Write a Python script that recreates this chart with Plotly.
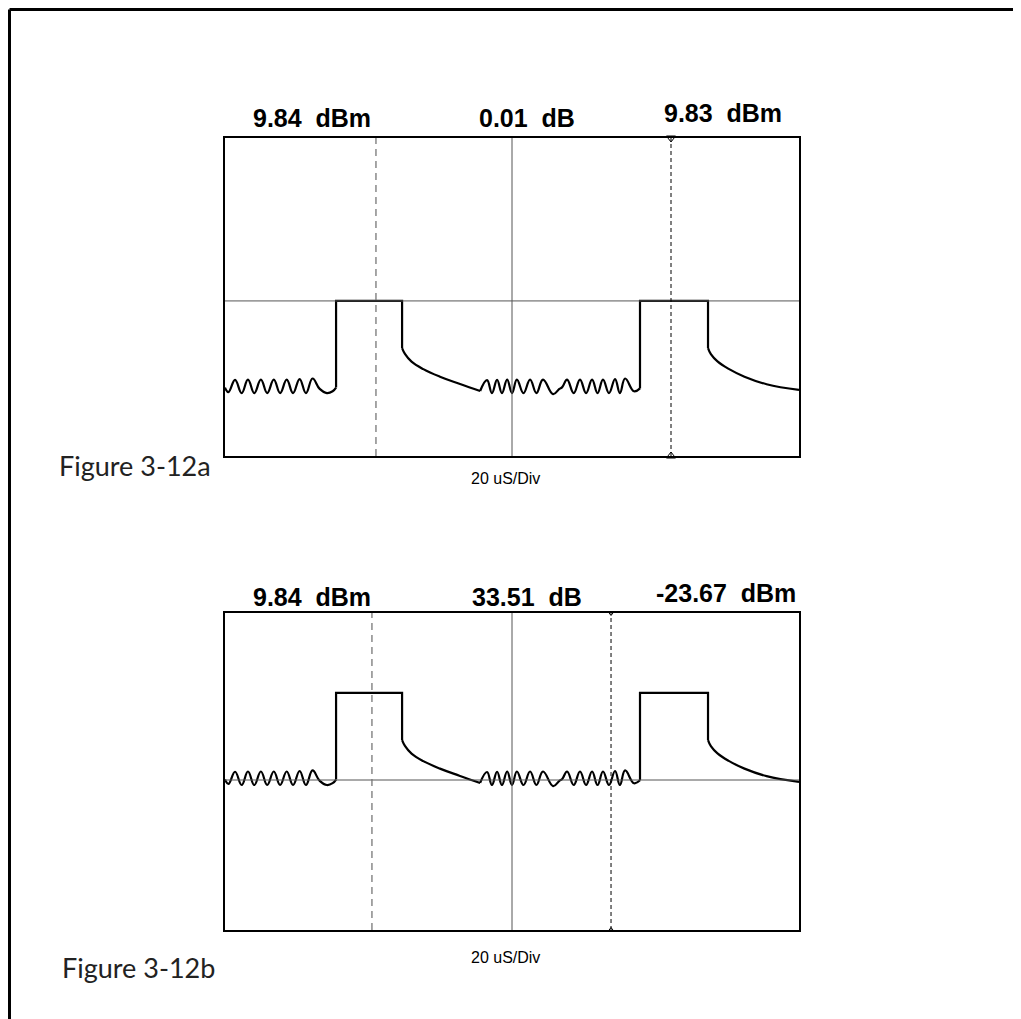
import plotly.graph_objects as go

W, H = 1021, 1019
OFF = 8  # default body margin of the page

# ---------------- data (time in uS, level in dBm) ----------------
noise_a_t = [0, 1.2, 3.5, 5.8, 8.0, 10.2, 12.5, 14.7, 17.0, 19.2, 21.5, 23.7, 26.0, 28.2, 30.5, 33.0, 35.5, 37.5, 38.7]
noise_a_db = [-23.5, -25.2, -20.5, -25.6, -20.4, -25.6, -20.4, -25.6, -20.4, -25.6, -20.4, -25.6, -20.2, -25.6, -20.0, -24.0, -25.6, -24.9, -23.5]

pulse_a_t = [38.7, 38.7, 61.7, 61.7]
pulse_a_db = [-23.5, 9.84, 9.84, -8.3]

decay_a_t = [61.7, 62.7, 65.0, 69.1, 74.9, 81.9, 88.9]
decay_a_db = [-8.3, -10.5, -13.5, -16.4, -19.3, -22.1, -24.8]

noise_b_t = [88.9, 91.3, 93.0, 94.8, 96.5, 98.3, 100.0, 101.7, 104.0, 106.3, 108.5, 110.8, 114.3, 116.5, 117.5,
             119.2, 121.5, 123.7, 125.8, 127.9, 129.8, 131.7, 133.8, 135.9, 137.6, 139.4, 142.5, 144.6]
noise_b_db = [-24.8, -20.6, -25.6, -20.5, -25.6, -20.4, -25.6, -20.4, -25.6, -20.4, -25.6, -20.4, -26.0, -24.0, -23.3,
              -20.4, -25.6, -20.4, -25.6, -20.4, -25.6, -20.4, -25.6, -20.2, -25.6, -20.0, -24.9, -23.8]

pulse_b_t = [144.6, 144.6, 168.3, 168.3]
pulse_b_db = [-23.8, 9.83, 9.83, -8.3]

decay_b_t = [168.3, 169.3, 171.6, 175.5, 181.0, 188.7, 200.0]
decay_b_db = [-8.3, -10.6, -13.4, -16.3, -19.3, -22.2, -24.4]

segments = [
    (noise_a_t, noise_a_db, "spline"),
    (pulse_a_t, pulse_a_db, "linear"),
    (decay_a_t, decay_a_db, "spline"),
    (noise_b_t, noise_b_db, "spline"),
    (pulse_b_t, pulse_b_db, "linear"),
    (decay_b_t, decay_b_db, "spline"),
]

# chart a / chart b settings
ref_level = {"a": 9.84, "b": -23.67}
marker1_us = {"a": 52.6, "b": 51.2}
marker2_us = {"a": 155.4, "b": 134.5}
center_us = 100
x_range = [0, 200]
y_range = {"a": [-49.8, 72.5], "b": [-81.4, 40.6]}

readouts = {
    "a": ["9.84\u00a0\u00a0dBm", "0.01\u00a0\u00a0dB", "9.83\u00a0\u00a0dBm"],
    "b": ["9.84\u00a0\u00a0dBm", "33.51\u00a0\u00a0dB", "-23.67\u00a0\u00a0dBm"],
}
fig_titles = {"a": "Figure 3-12a", "b": "Figure 3-12b"}
timebase = "20 uS/Div"

# ---------------- layout helpers ----------------
def px(x):
    return (x - OFF) / W

def py(y):
    return 1 - (y - OFF) / H

boxes = {"a": (225, 799, 138, 456), "b": (225, 799, 613, 930)}
axes = {"a": ("x", "y"), "b": ("x2", "y2")}
label_pos = {
    "a": [(312, 118), (527, 118), (723, 113)],
    "b": [(312, 597), (527, 597), (726, 593)],
}
timebase_y = {"a": 478, "b": 957}
title_pos = {"a": (57, 465), "b": (60, 967)}

fig = go.Figure()
shapes = []
annotations = []

for key in ["a", "b"]:
    xa, ya = axes[key]
    for t, d, shp in segments:
        fig.add_trace(go.Scatter(x=t, y=d, xaxis=xa, yaxis=ya, mode="lines",
                                 line=dict(color="black", width=2.2, shape=shp, smoothing=1.2),
                                 showlegend=False, hoverinfo="skip"))
    # center cross
    shapes.append(dict(type="line", xref=xa, yref=ya, x0=center_us, x1=center_us,
                       y0=y_range[key][0], y1=y_range[key][1], line=dict(color="#555", width=1)))
    shapes.append(dict(type="line", xref=xa, yref=ya, x0=x_range[0], x1=x_range[1],
                       y0=ref_level[key], y1=ref_level[key], line=dict(color="#555", width=1)))
    # markers
    shapes.append(dict(type="line", xref=xa, yref=ya, x0=marker1_us[key], x1=marker1_us[key],
                       y0=y_range[key][0], y1=y_range[key][1],
                       line=dict(color="#777", width=1.3, dash="7px,5px")))
    shapes.append(dict(type="line", xref=xa, yref=ya, x0=marker2_us[key], x1=marker2_us[key],
                       y0=y_range[key][0], y1=y_range[key][1],
                       line=dict(color="black", width=1, dash="4px,3px")))
    msize = 8 if key == "a" else 5
    fig.add_trace(go.Scatter(x=[marker2_us[key], marker2_us[key]],
                             y=[y_range[key][1], y_range[key][0]],
                             xaxis=xa, yaxis=ya, mode="markers", cliponaxis=False,
                             marker=dict(symbol=["triangle-down-open", "triangle-up-open"], size=msize,
                                         color="black", line=dict(width=1)),
                             showlegend=False, hoverinfo="skip"))

    for txt, (cx, cy) in zip(readouts[key], label_pos[key]):
        annotations.append(dict(text=txt, xref="paper", yref="paper", x=px(cx), y=py(cy),
                                showarrow=False, xanchor="center", yanchor="middle",
                                font=dict(family="Liberation Sans, Arial", size=25, color="black", weight="bold")))
    annotations.append(dict(text=timebase, xref="paper", yref="paper", x=px(505), y=py(timebase_y[key]),
                            showarrow=False, xanchor="center", yanchor="middle",
                            font=dict(family="Liberation Sans Narrow, Liberation Sans, Arial", size=16, color="black")))
    fx, fy = title_pos[key]
    annotations.append(dict(text=fig_titles[key], xref="paper", yref="paper", x=px(fx), y=py(fy),
                            showarrow=False, xanchor="left", yanchor="middle",
                            font=dict(family="Lato, Open Sans", size=27, color="#222")))

# page border (top and left)
shapes.append(dict(type="line", xref="paper", yref="paper", x0=1.5 / W, x1=1.0, y0=1 - 1.5 / H, y1=1 - 1.5 / H,
                   line=dict(color="black", width=3)))
shapes.append(dict(type="line", xref="paper", yref="paper", x0=1.5 / W, x1=1.5 / W, y0=1 - 1.5 / H, y1=0,
                   line=dict(color="black", width=3)))

axis_common = dict(showticklabels=False, showgrid=False, zeroline=False, showline=True, mirror=True,
                   linecolor="black", linewidth=1.5, ticks="", fixedrange=True)

layout = dict(
    width=W, height=H, margin=dict(l=0, r=0, t=0, b=0),
    paper_bgcolor="white", plot_bgcolor="white", showlegend=False,
    shapes=shapes, annotations=annotations,
)
for key in ["a", "b"]:
    x0, x1, y0, y1 = boxes[key]
    xa, ya = axes[key]
    xname = "xaxis" if xa == "x" else "xaxis2"
    yname = "yaxis" if ya == "y" else "yaxis2"
    layout[xname] = dict(domain=[px(x0), px(x1)], range=x_range, anchor=ya, **axis_common)
    layout[yname] = dict(domain=[py(y1), py(y0)], range=y_range[key], anchor=xa, **axis_common)

fig.update_layout(**layout)
fig.write_html("out.html")
